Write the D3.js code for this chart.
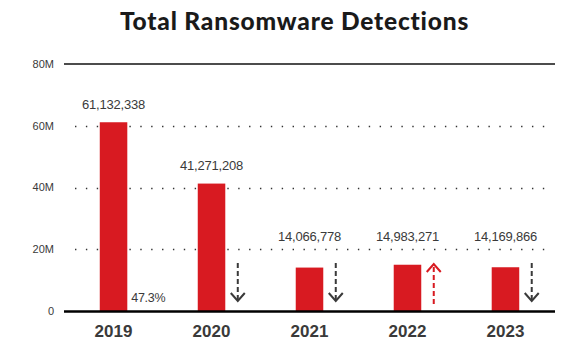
<!DOCTYPE html>
<html><head><meta charset="utf-8">
<script src="https://cdn.jsdelivr.net/npm/d3@7"></script>
<style>body{margin:0;background:#fff}svg{display:block}</style>
</head><body>
<svg id="chart" width="575" height="356"></svg>
<script>
const title = "Total Ransomware Detections";
const years = ["2019","2020","2021","2022","2023"];
const detections = [61132338, 41271208, 14066778, 14983271, 14169866];
const valueLabels = ["61,132,338","41,271,208","14,066,778","14,983,271","14,169,866"];
const trend = [null, "down", "down", "up", "down"];
const yTicks = [0, 20e6, 40e6, 60e6, 80e6];
const yTickLabels = ["0","20M","40M","60M","80M"];
const changeNote = {year: "2019", text: "47.3%"};

const svg = d3.select("#chart");
const red = "#d81a21", dark = "#3a3a3a";
const y = d3.scaleLinear().domain([0, 80e6]).range([311, 64]);
const x = d3.scaleBand().domain(years).range([64, 555]).paddingInner(0.719).paddingOuter(0.365);

svg.append("text").attr("x", 294.5).attr("y", 30).attr("text-anchor","middle")
  .style("font-family","Lato").style("font-weight",900).style("font-size","24.5px")
  .style("letter-spacing","0.8px")
  .style("fill","#1a1a1a").text(title);

// dotted gridlines
svg.selectAll("line.grid").data(yTicks.filter(t => t > 0 && t < 80e6)).join("line")
  .attr("class","grid").attr("x1",75).attr("x2",545)
  .attr("y1", d => Math.round(y(d))+0.5).attr("y2", d => Math.round(y(d))+0.5)
  .attr("stroke","#333").attr("stroke-width",1.4).attr("stroke-dasharray","1.4,9.48");

// top line
svg.append("line").attr("x1",64).attr("x2",555).attr("y1",y(80e6)).attr("y2",y(80e6))
  .attr("stroke","#111").attr("stroke-width",1.6);

// y tick labels
svg.selectAll("text.ytick").data(yTicks).join("text").attr("class","ytick")
  .attr("x",54).attr("y", d => y(d)).attr("dy","0.35em").attr("text-anchor","end")
  .style("font-family","Liberation Sans").style("font-size","11px").style("fill",dark)
  .text((d,i) => yTickLabels[i]);

// bars
svg.selectAll("rect.bar").data(years).join("rect").attr("class","bar")
  .attr("x", d => x(d)).attr("width", x.bandwidth())
  .attr("y", (d,i) => y(detections[i])).attr("height", (d,i) => y(0) - y(detections[i]))
  .attr("fill", red);

// baseline
svg.append("line").attr("x1",64).attr("x2",555).attr("y1",y(0)+0.5).attr("y2",y(0)+0.5)
  .attr("stroke","#000").attr("stroke-width",2.6);

// value labels
svg.selectAll("text.val").data(years).join("text").attr("class","val")
  .attr("x", d => x(d) + x.bandwidth()/2)
  .attr("y", (d,i) => Math.min(y(detections[i]) - 13.5, y(20e6) - 8.5))
  .attr("text-anchor","middle")
  .style("font-family","Liberation Sans").style("font-size","13px").style("fill",dark)
  .style("letter-spacing","-0.2px")
  .text((d,i) => valueLabels[i]);

// year labels
svg.selectAll("text.year").data(years).join("text").attr("class","year")
  .attr("x", d => x(d) + x.bandwidth()/2).attr("y", y(0) + 26)
  .attr("text-anchor","middle")
  .style("font-family","Liberation Sans").style("font-weight","bold").style("font-size","17px")
  .style("fill",dark).text(d => d);

// change note
svg.append("text").attr("x", x(changeNote.year) + x.bandwidth() + 4).attr("y", y(0) - 9)
  .style("font-family","Liberation Sans").style("font-size","12.5px").style("fill",dark)
  .style("letter-spacing","-0.3px").text(changeNote.text);

// arrows
const arrows = svg.selectAll("g.arrow").data(years.map((d,i) => ({year:d, dir:trend[i]})).filter(d => d.dir))
  .join("g").attr("class","arrow")
  .attr("transform", d => `translate(${x(d.year) + x.bandwidth() + 12.5},0)`);
arrows.append("line")
  .attr("x1",0).attr("x2",0)
  .attr("y1", d => d.dir === "down" ? y(0) - 48 : y(0) - 7)
  .attr("y2", d => d.dir === "down" ? y(0) - 11 : y(0) - 45)
  .attr("stroke", d => d.dir === "up" ? red : dark).attr("stroke-width",2)
  .attr("stroke-dasharray","5,3");
arrows.append("polyline")
  .attr("points", d => d.dir === "down"
    ? `-7,${y(0)-18} 0,${y(0)-10} 7,${y(0)-18}`
    : `-7,${y(0)-39} 0,${y(0)-47} 7,${y(0)-39}`)
  .attr("fill","none").attr("stroke", d => d.dir === "up" ? red : dark).attr("stroke-width",2);
</script>
</body></html>
